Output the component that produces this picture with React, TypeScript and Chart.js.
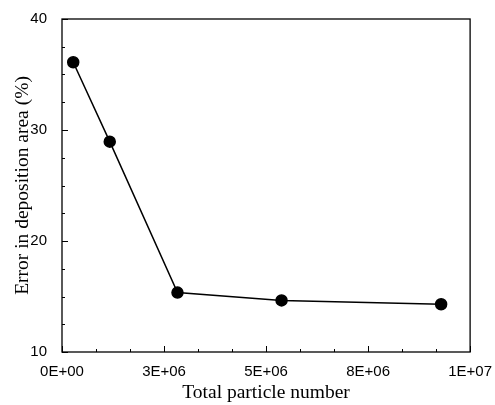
import React, { useEffect, useRef } from "react";
import { Chart, registerables } from "chart.js";

Chart.register(...registerables);

const particleNumbers = [2.75e5, 1.17e6, 2.83e6, 5.38e6, 9.29e6];
const errorValues = [36.1, 28.95, 15.35, 14.65, 14.3];
const xTickValues = [0, 2.5e6, 5e6, 7.5e6, 1e7];
const xTickLabels = ["0E+00", "3E+06", "5E+06", "8E+06", "1E+07"];
const yTickValues = [10, 20, 30, 40];
const xMinorStep = 2.5e6 / 3;
const yMinorStep = 2.5;

const framePlugin = {
  id: "frame",
  afterDraw(chart: any) {
    const { ctx, chartArea: a } = chart;
    const xs = chart.scales.x;
    const ys = chart.scales.y;
    ctx.save();
    ctx.strokeStyle = "#000";
    ctx.lineWidth = 1.3;
    ctx.strokeRect(a.left, a.top, a.right - a.left, a.bottom - a.top);
    ctx.lineWidth = 1;
    ctx.beginPath();
    for (let v = 0; v <= 1e7 + 1; v += xMinorStep) {
      const major = Math.abs(v / 2.5e6 - Math.round(v / 2.5e6)) < 1e-6;
      const px = Math.round(xs.getPixelForValue(v)) + 0.5;
      ctx.moveTo(px, a.bottom);
      ctx.lineTo(px, a.bottom - (major ? 6 : 3));
    }
    for (let v = 10; v <= 40 + 1e-6; v += yMinorStep) {
      const major = Math.abs(v % 10) < 1e-6;
      const py = Math.round(ys.getPixelForValue(v)) + 0.5;
      ctx.moveTo(a.left, py);
      ctx.lineTo(a.left + (major ? 6 : 3), py);
    }
    ctx.stroke();
    ctx.restore();
  },
};

export default function App() {
  const ref = useRef<HTMLCanvasElement | null>(null);
  useEffect(() => {
    document.body.style.margin = "0";
    const chart = new Chart(ref.current as HTMLCanvasElement, {
      type: "scatter",
      data: {
        datasets: [
          {
            data: particleNumbers.map((x, i) => ({ x, y: errorValues[i] })),
            showLine: true,
            borderColor: "#000",
            backgroundColor: "#000",
            borderWidth: 1.5,
            pointRadius: 5.5,
            pointHoverRadius: 5.5,
          },
        ],
      },
      options: {
        animation: false,
        responsive: false,
        layout: { padding: { top: 19, right: 22, left: 0, bottom: 0 } },
        plugins: { legend: { display: false }, tooltip: { enabled: false } },
        scales: {
          x: {
            type: "linear",
            min: 0,
            max: 1e7,
            afterBuildTicks: (s: any) => {
              s.ticks = xTickValues.map((value) => ({ value }));
            },
            afterFit: (s: any) => {
              s.height = 53;
            },
            grid: { display: false },
            border: { display: false },
            ticks: {
              padding: 3,
              color: "#000",
              maxRotation: 0,
              font: { family: "'Liberation Sans', Arial", size: 15 },
              callback: (v: any) => {
                const i = xTickValues.indexOf(Number(v));
                return i >= 0 ? xTickLabels[i] : "";
              },
            },
            title: {
              display: true,
              text: "Total particle number",
              color: "#000",
              font: { family: "'Liberation Serif', 'Times New Roman'", size: 19.5 },
              padding: { top: 5, bottom: 0 },
            },
          },
          y: {
            type: "linear",
            min: 10,
            max: 40,
            afterBuildTicks: (s: any) => {
              s.ticks = yTickValues.map((value) => ({ value }));
            },
            afterFit: (s: any) => {
              s.width = 62;
            },
            grid: { display: false },
            border: { display: false },
            ticks: {
              padding: 7,
              color: "#000",
              font: { family: "'Liberation Sans', Arial", size: 15 },
            },
            title: {
              display: true,
              text: "Error in deposition area (%)",
              color: "#000",
              font: { family: "'Liberation Serif', 'Times New Roman'", size: 19.5 },
              padding: { top: 11, bottom: 0 },
            },
          },
        },
      },
      plugins: [framePlugin],
    });
    return () => chart.destroy();
  }, []);
  return <canvas ref={ref} width={495} height={405} style={{ display: "block" }} />;
}
